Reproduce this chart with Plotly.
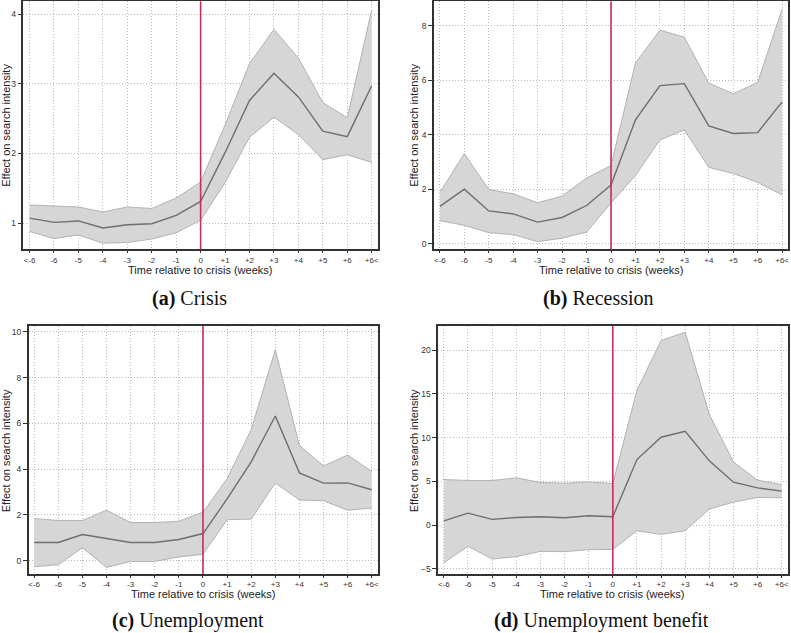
import plotly.graph_objects as go

# ---------------- data ----------------
weeks = ["<-6", "-6", "-5", "-4", "-3", "-2", "-1", "0",
         "+1", "+2", "+3", "+4", "+5", "+6", "+6<"]

crisis_mid = [1.07, 1.01, 1.03, 0.93, 0.976, 0.99, 1.11, 1.31, 2.01, 2.76, 3.15, 2.81, 2.32, 2.24, 2.97]
crisis_hi = [1.26, 1.25, 1.23, 1.16, 1.23, 1.21, 1.36, 1.59, 2.41, 3.29, 3.78, 3.37, 2.73, 2.51, 4.06]
crisis_lo = [0.88, 0.776, 0.83, 0.71, 0.72, 0.77, 0.86, 1.04, 1.58, 2.23, 2.52, 2.27, 1.91, 1.98, 1.87]

recession_mid = [1.37, 2.0, 1.2, 1.09, 0.79, 0.96, 1.40, 2.15, 4.55, 5.81, 5.88, 4.33, 4.05, 4.08, 5.21]
recession_hi = [1.88, 3.31, 1.99, 1.83, 1.50, 1.75, 2.41, 2.87, 6.64, 7.85, 7.59, 5.90, 5.51, 5.93, 8.63]
recession_lo = [0.84, 0.67, 0.40, 0.33, 0.07, 0.20, 0.42, 1.49, 2.50, 3.81, 4.18, 2.80, 2.58, 2.25, 1.79]

unemp_mid = [0.80, 0.80, 1.15, 0.96, 0.80, 0.80, 0.93, 1.19, 2.70, 4.32, 6.32, 3.84, 3.39, 3.40, 3.10]
unemp_hi = [1.85, 1.76, 1.76, 2.21, 1.67, 1.67, 1.73, 2.12, 3.59, 5.73, 9.22, 5.03, 4.14, 4.62, 3.90]
unemp_lo = [-0.26, -0.17, 0.57, -0.29, -0.03, -0.03, 0.17, 0.28, 1.79, 1.82, 3.40, 2.65, 2.62, 2.21, 2.30]

benefit_mid = [0.49, 1.37, 0.65, 0.87, 0.95, 0.84, 1.06, 0.95, 7.49, 10.04, 10.72, 7.34, 4.90, 4.26, 3.88]
benefit_hi = [5.21, 5.10, 5.10, 5.40, 4.87, 4.79, 4.94, 4.75, 15.4, 21.1, 22.05, 12.66, 7.22, 5.13, 4.64]
benefit_lo = [-4.30, -2.43, -3.88, -3.61, -3.0, -3.04, -2.81, -2.78, -0.65, -1.06, -0.65, 1.83, 2.62, 3.16, 3.12]

crisis_yticks = [1, 2, 3, 4]
recession_yticks = [0, 2, 4, 6, 8]
unemp_yticks = [0, 2, 4, 6, 8, 10]
benefit_yticks = [-5, 0, 5, 10, 15, 20]

captions = ["<b>(a)</b> Crisis", "<b>(b)</b> Recession",
            "<b>(c)</b> Unemployment", "<b>(d)</b> Unemployment benefit"]
x_title = "Time relative to crisis (weeks)"
y_title = "Effect on search intensity"
event_week = "0"

# ---------------- layout geometry (pixels) ----------------
W, H = 791, 633


def px(x):
    return x / W


def py(y):
    return 1 - y / H


panels = [
    dict(mid=crisis_mid, hi=crisis_hi, lo=crisis_lo, yticks=crisis_yticks,
         yrange=[0.623, 4.18], xpx=[23.5, 379], ypx=[0.5, 248.7], xrange=[-0.25, 14.26],
         cap=(190, 298), xt=(201, 269), yt=(6, 124)),
    dict(mid=recession_mid, hi=recession_hi, lo=recession_lo, yticks=recession_yticks,
         yrange=[-0.21, 8.9], xpx=[435, 789.5], ypx=[0.5, 248.7], xrange=[-0.245, 14.22],
         cap=(600, 298), xt=(612.5, 269), yt=(415, 124)),
    dict(mid=unemp_mid, hi=unemp_hi, lo=unemp_lo, yticks=unemp_yticks,
         yrange=[-0.58, 10.26], xpx=[28.7, 379], ypx=[325.3, 574], xrange=[-0.23, 14.26],
         cap=(188, 620), xt=(204, 594), yt=(6, 450)),
    dict(mid=benefit_mid, hi=benefit_hi, lo=benefit_lo, yticks=benefit_yticks,
         yrange=[-5.6, 22.78], xpx=[439.3, 789.5], ypx=[325.3, 574], xrange=[-0.235, 14.24],
         cap=(603, 620), xt=(614, 594), yt=(415, 450)),
]

BAND_FILL = "rgb(214,214,214)"
BAND_EDGE = "rgb(165,165,165)"
MID_COLOR = "rgb(110,110,110)"
VLINE_COLOR = "rgb(200,45,85)"
FRAME = "rgb(50,50,50)"
GRID = "rgb(185,185,185)"
GRID_DASH = "1px,2px"
SANS = "Liberation Sans, Arial, sans-serif"
SERIF = "Liberation Serif, Times New Roman, serif"

fig = go.Figure()
annotations = []
shapes = []
layout_axes = {}

for i, p in enumerate(panels, start=1):
    xa = "x" if i == 1 else f"x{i}"
    ya = "y" if i == 1 else f"y{i}"
    # band
    fig.add_trace(go.Scatter(x=weeks, y=p["hi"], xaxis=xa, yaxis=ya, mode="lines",
                             line=dict(color=BAND_EDGE, width=0.8), hoverinfo="skip"))
    fig.add_trace(go.Scatter(x=weeks, y=p["lo"], xaxis=xa, yaxis=ya, mode="lines",
                             line=dict(color=BAND_EDGE, width=0.8), fill="tonexty",
                             fillcolor=BAND_FILL, hoverinfo="skip"))
    fig.add_trace(go.Scatter(x=weeks, y=p["mid"], xaxis=xa, yaxis=ya, mode="lines",
                             line=dict(color=MID_COLOR, width=1.4)))

    xkey = "xaxis" if i == 1 else f"xaxis{i}"
    ykey = "yaxis" if i == 1 else f"yaxis{i}"
    layout_axes[xkey] = dict(
        domain=[px(p["xpx"][0]), px(p["xpx"][1])], anchor=ya,
        type="category", categoryorder="array", categoryarray=weeks,
        range=p["xrange"], showline=True, mirror=True, linecolor=FRAME, linewidth=1.5,
        ticks="outside", ticklen=2, tickcolor=FRAME, tickwidth=1,
        showgrid=True, gridcolor=GRID, griddash=GRID_DASH, gridwidth=1,
        tickfont=dict(family=SANS, size=8, color="#333"), zeroline=False,
    )
    layout_axes[ykey] = dict(
        domain=[py(p["ypx"][1]), py(p["ypx"][0])], anchor=xa,
        range=p["yrange"], tickvals=p["yticks"], showline=True, mirror=True,
        linecolor=FRAME, linewidth=1.5, ticks="outside", ticklen=4, tickcolor=FRAME,
        tickwidth=1, showgrid=True, gridcolor=GRID, griddash=GRID_DASH, gridwidth=1,
        tickfont=dict(family=SANS, size=8.5, color="#333"), zeroline=False,
    )
    # event line
    shapes.append(dict(type="line", xref=xa, yref=f"{ya} domain",
                       x0=weeks.index(event_week), x1=weeks.index(event_week), y0=0, y1=1,
                       line=dict(color=VLINE_COLOR, width=1.6), layer="above"))
    # axis titles
    annotations.append(dict(text=x_title, xref="paper", yref="paper",
                            x=px(p["xt"][0]), y=py(p["xt"][1]), showarrow=False,
                            xanchor="center", yanchor="middle",
                            font=dict(family=SANS, size=11, color="#222")))
    annotations.append(dict(text=y_title, xref="paper", yref="paper",
                            x=px(p["yt"][0]), y=py(p["yt"][1]), showarrow=False,
                            textangle=-90, xanchor="center", yanchor="middle",
                            font=dict(family=SANS, size=11, color="#222")))
    # caption
    annotations.append(dict(text=captions[i - 1], xref="paper", yref="paper",
                            x=px(p["cap"][0]), y=py(p["cap"][1]), showarrow=False,
                            xanchor="center", yanchor="middle",
                            font=dict(family=SERIF, size=20, color="#111")))

fig.update_layout(
    width=W, height=H, margin=dict(l=0, r=0, t=0, b=0),
    plot_bgcolor="white", paper_bgcolor="white", showlegend=False,
    annotations=annotations, shapes=shapes, **layout_axes,
)

fig.write_html("out.html", config={"displayModeBar": False},
               post_script="document.body.style.margin='0';document.body.style.padding='0';")
